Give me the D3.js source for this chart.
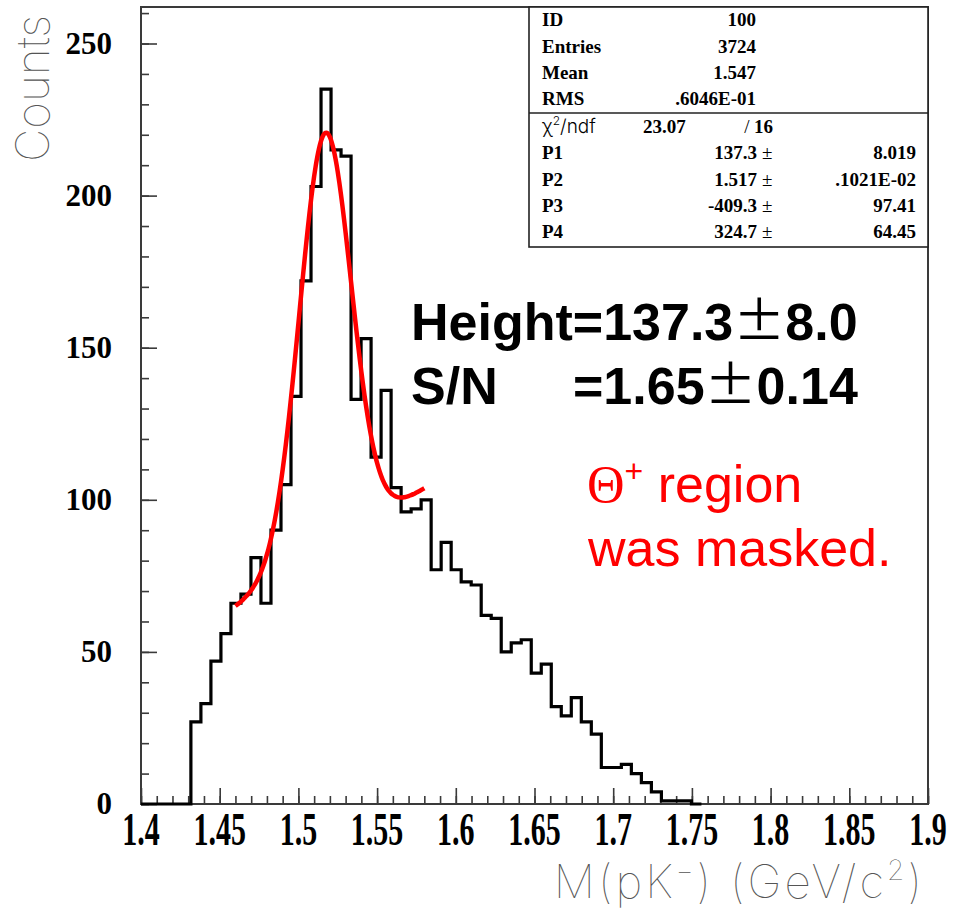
<!DOCTYPE html>
<html>
<head>
<meta charset="utf-8">
<script src="https://cdn.jsdelivr.net/npm/d3@7"></script>
<style>
  html, body { margin: 0; padding: 0; background: #fff; }
  svg { display: block; }
</style>
</head>
<body>
<svg id="chart" width="953" height="911"></svg>
<script>
// ---- histogram data: invariant mass M(pK-) ----
const binLow = 1.4317;          // lower edge of the first filled bin (GeV/c^2)
const binWidth = 0.00636;       // bin width (GeV/c^2)
const counts = [27, 33, 47, 56, 66, 69, 81, 66, 90, 105,
                134, 172, 203, 235, 215, 213, 133, 153, 114, 136,
                104, 96, 97, 100, 77, 86, 77, 73, 72, 62,
                61, 50, 53, 54, 43, 46, 32, 29, 35, 27,
                23, 12, 12, 13, 10, 7, 4, 1, 1, 1, 0];

// ---- fit: gaussian (fixed width) + linear background ----
const fitParams = [137.3, 1.517, -409.3, 324.7];   // P1..P4
const fitSigma = 0.0164;
const fitRange = [1.46, 1.58];

// ---- axes ----
const xDomain = [1.4, 1.9];
const yDomain = [0, 262];
const xMajor = [1.4, 1.45, 1.5, 1.55, 1.6, 1.65, 1.7, 1.75, 1.8, 1.85, 1.9];
const xLabels = ["1.4", "1.45", "1.5", "1.55", "1.6", "1.65", "1.7", "1.75", "1.8", "1.85", "1.9"];
const yMajor = [0, 50, 100, 150, 200, 250];
const yLabels = ["0", "50", "100", "150", "200", "250"];

// ---- statistics box ----
const statRows = [["ID", "100"], ["Entries", "3724"], ["Mean", "1.547"], ["RMS", ".6046E-01"]];
const chiRow = ["23.07", "16"];
const parRows = [["P1", "137.3", "8.019"], ["P2", "1.517", ".1021E-02"],
                 ["P3", "-409.3", "97.41"], ["P4", "324.7", "64.45"]];

const svg = d3.select("#chart");
const frame = {left: 141, right: 928, top: 7, bottom: 804};

const x = d3.scaleLinear().domain(xDomain).range([frame.left, frame.right]);
const y = d3.scaleLinear().domain(yDomain).range([frame.bottom, frame.top]);

const axisColor = "#3a3a3a";

// minor / major ticks (drawn inward)
const xMinor = d3.range(140, 191).map(v => v / 100);
const yMinor = d3.range(0, 261, 10);

const gx = svg.append("g").attr("transform", `translate(0,${frame.bottom})`);
gx.append("g").call(d3.axisBottom(x).tickValues(xMinor).tickSize(-8).tickFormat(""));
gx.append("g").call(d3.axisBottom(x).tickValues(xMajor).tickSize(-16).tickFormat(""));
const gy = svg.append("g").attr("transform", `translate(${frame.left},0)`);
gy.append("g").call(d3.axisLeft(y).tickValues(yMinor).tickSize(-8).tickFormat(""));
gy.append("g").call(d3.axisLeft(y).tickValues(yMajor).tickSize(-16).tickFormat(""));
svg.selectAll(".domain").remove();
svg.selectAll(".tick line").attr("stroke", axisColor).attr("stroke-width", 1.6);

// frame
svg.append("rect")
  .attr("x", frame.left).attr("y", frame.top)
  .attr("width", frame.right - frame.left).attr("height", frame.bottom - frame.top)
  .attr("fill", "none").attr("stroke", axisColor).attr("stroke-width", 2);

// tick labels
svg.append("g").selectAll("text").data(yMajor).join("text")
  .attr("x", 112).attr("y", d => y(d) + 10)
  .attr("text-anchor", "end")
  .attr("font-family", "'Liberation Serif', 'DejaVu Serif', serif")
  .attr("font-weight", "bold").attr("font-size", 31)
  .text((d, i) => yLabels[i]);

svg.append("g").selectAll("text").data(xMajor).join("text")
  .attr("transform", d => `translate(${x(d)},845) scale(1,1.55)`)
  .attr("text-anchor", "middle")
  .attr("font-family", "'Liberation Serif', 'DejaVu Serif', serif")
  .attr("font-weight", "bold").attr("font-size", 30)
  .text((d, i) => xLabels[i]);

// axis titles
const thinFont = "Inter, Roboto, 'Open Sans', 'DejaVu Sans', sans-serif";
const xt = svg.append("text")
  .attr("x", 925).attr("y", 898)
  .attr("text-anchor", "end")
  .attr("font-family", thinFont).attr("font-weight", 100)
  .attr("font-size", 46).attr("letter-spacing", 3).attr("fill", "#555");
xt.append("tspan").text("M(pK");
xt.append("tspan").attr("dy", -18).attr("font-size", 28).text("−");
xt.append("tspan").attr("dy", 18).text(") (GeV/c");
xt.append("tspan").attr("dy", -18).attr("font-size", 28).text("2");
xt.append("tspan").attr("dy", 18).text(")");

svg.append("text")
  .attr("transform", "translate(49,15) rotate(-90)")
  .attr("text-anchor", "end")
  .attr("font-family", thinFont).attr("font-weight", 100)
  .attr("font-size", 46).attr("fill", "#555")
  .text("Counts");

// histogram outline
const histPts = [[xDomain[0], 0]]
  .concat(counts.map((c, i) => [binLow + i * binWidth, c]))
  .concat([[binLow + counts.length * binWidth, 0]]);
svg.append("path")
  .datum(histPts)
  .attr("d", d3.line().x(d => x(d[0])).y(d => y(d[1])).curve(d3.curveStepAfter))
  .attr("fill", "none").attr("stroke", "#000").attr("stroke-width", 3.2)
  .attr("stroke-linejoin", "miter");

// fit curve
const fitFn = m => fitParams[0] * Math.exp(-0.5 * Math.pow((m - fitParams[1]) / fitSigma, 2))
                 + fitParams[2] + fitParams[3] * m;
const fitPts = d3.range(fitRange[0], fitRange[1] + 1e-9, 0.001).map(m => [m, fitFn(m)]);
svg.append("path")
  .datum(fitPts)
  .attr("d", d3.line().x(d => x(d[0])).y(d => y(d[1])).curve(d3.curveMonotoneX))
  .attr("fill", "none").attr("stroke", "#ff0000").attr("stroke-width", 4.5)
  .attr("stroke-linecap", "butt");

// statistics box
const box = {left: 529, right: 928, top: 7, bottom: 247, sep: 113};
svg.append("rect")
  .attr("x", box.left).attr("y", box.top)
  .attr("width", box.right - box.left).attr("height", box.bottom - box.top)
  .attr("fill", "#fff").attr("stroke", "#222").attr("stroke-width", 1.6);
svg.append("line")
  .attr("x1", box.left).attr("x2", box.right).attr("y1", box.sep).attr("y2", box.sep)
  .attr("stroke", "#222").attr("stroke-width", 1.6);

const serif = "'Liberation Serif', 'DejaVu Serif', serif";
const st = svg.append("g").attr("font-family", serif).attr("font-weight", "bold").attr("font-size", 19);
const statY = [20, 47, 73, 99];
statRows.forEach((r, i) => {
  st.append("text").attr("x", 542).attr("y", statY[i] + 6).text(r[0]);
  st.append("text").attr("x", 756).attr("y", statY[i] + 6).attr("text-anchor", "end").text(r[1]);
});
// chi2 row
const chiY = 127 + 6;
const chi = st.append("text").attr("x", 542).attr("y", chiY)
  .attr("font-family", thinFont).attr("font-weight", 300).attr("font-size", 19);
chi.append("tspan").text("χ");
chi.append("tspan").attr("dy", -8).attr("font-size", 12).text("2");
chi.append("tspan").attr("dy", 8).text("/ndf");
st.append("text").attr("x", 643).attr("y", chiY).text(chiRow[0]);
st.append("text").attr("x", 747).attr("y", chiY).attr("text-anchor", "middle").attr("font-weight", "normal").text("/");
st.append("text").attr("x", 773).attr("y", chiY).attr("text-anchor", "end").text(chiRow[1]);
const parY = [153, 180, 206, 232];
parRows.forEach((r, i) => {
  st.append("text").attr("x", 542).attr("y", parY[i] + 6).text(r[0]);
  st.append("text").attr("x", 757).attr("y", parY[i] + 6).attr("text-anchor", "end").text(r[1]);
  st.append("text").attr("x", 762).attr("y", parY[i] + 6).attr("font-weight", "normal").text("±");
  st.append("text").attr("x", 916).attr("y", parY[i] + 6).attr("text-anchor", "end").text(r[2]);
});

// annotations
const sans = "'Liberation Sans', Arial, sans-serif";
const cjk = "'Noto Sans CJK JP', 'Noto Sans CJK SC', sans-serif";
const a1 = svg.append("text").attr("x", 411).attr("y", 340)
  .attr("font-family", sans).attr("font-weight", "bold").attr("font-size", 52);
a1.append("tspan").text("Height=137.3");
a1.append("tspan").attr("font-family", cjk).attr("font-weight", "normal").text("±");
a1.append("tspan").text("8.0");

const a2 = svg.append("text").attr("y", 404)
  .attr("font-family", sans).attr("font-weight", "bold").attr("font-size", 52);
a2.append("tspan").attr("x", 411).text("S/N");
a2.append("tspan").attr("x", 573).text("=1.65");
a2.append("tspan").attr("font-family", cjk).attr("font-weight", "normal").text("±");
a2.append("tspan").text("0.14");

const r1 = svg.append("text").attr("x", 587).attr("y", 502)
  .attr("font-family", sans).attr("font-size", 52).attr("fill", "#ff0000");
r1.append("tspan").attr("font-family", serif).text("Θ");
r1.append("tspan").attr("dy", -20).attr("font-size", 32).text("+");
r1.append("tspan").attr("dy", 20).text(" region");
svg.append("text").attr("x", 588).attr("y", 566)
  .attr("font-family", sans).attr("font-size", 52).attr("fill", "#ff0000")
  .text("was masked.");
</script>
</body>
</html>
